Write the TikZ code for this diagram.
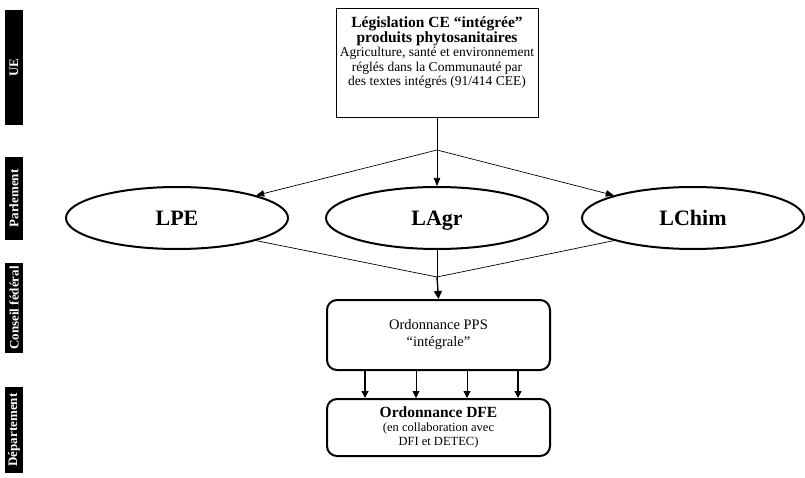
\documentclass[tikz,border=0pt]{standalone}
\usepackage{fontspec}
\setmainfont{Liberation Serif}
\usetikzlibrary{shapes.geometric,arrows.meta}

\tikzset{
  sidebar/.style={fill=black,text=white,font=\bfseries\fontsize{13}{14}\selectfont,rotate=90,minimum height=18pt,inner sep=0pt},
  topbox/.style={draw,line width=0.9pt,minimum width=202pt,minimum height=109pt},
  loi/.style={draw,ellipse,line width=2pt,minimum width=222pt,minimum height=62pt,inner sep=0pt,text height=15pt,text depth=0pt,font=\bfseries\fontsize{22}{24}\selectfont},
  ordbox/.style={draw,rounded corners=10pt,line width=2pt,minimum width=223pt,align=center},
  fleche/.style={-{Triangle[length=8pt,width=6.5pt]},line width=0.7pt},
  gfleche/.style={-{Triangle[length=8pt,width=8pt]},line width=1.4pt}
}

\begin{document}
\begin{tikzpicture}[x=1pt,y=-1pt]
  \useasboundingbox (0,0) rectangle (805,478);
  % niveaux
  \node[sidebar,minimum width=115pt] (ue) at (14,67.5) {UE};
  \node[sidebar,minimum width=83pt] (parl) at (14,198.5) {Parlement};
  \node[sidebar,minimum width=90pt] (cf) at (14,308) {Conseil fédéral};
  \node[sidebar,minimum width=86pt] (dep) at (14,430) {Département};

  \node[topbox] (leg) at (437,62.5) {};
  \node[anchor=north,align=center,inner sep=0pt,font=\fontsize{13.5}{14.5}\selectfont] (legtxt) at ([yshift=-9pt]leg.north)
    {{\bfseries\fontsize{15.5}{14.5}\selectfont Législation CE “intégrée”}\\
     {\bfseries\fontsize{15.5}{14.5}\selectfont produits phytosanitaires}\\
     Agriculture, santé et environnement\\
     réglés dans la Communauté par\\
     des textes intégrés (91/414 CEE)};

  \node[loi] (lpe) at (177,218) {LPE};
  \node[loi] (lagr) at (437,218) {LAgr};
  \node[loi] (lchim) at (693,218) {LChim};

  \coordinate (split) at (437,150);
  \coordinate (merge) at (437,277);

  \node[ordbox,minimum height=70pt,font=\fontsize{14.5}{17}\selectfont] (pps) at (438.5,335) {Ordonnance PPS\\ “intégrale”};
  \node[ordbox,minimum height=57pt,font=\fontsize{12.5}{14}\selectfont] (dfe) at (438.5,427.5)
    {{\bfseries\fontsize{15.5}{14}\selectfont Ordonnance DFE}\\ (en collaboration avec\\ DFI et DETEC)};

  \draw[line width=1pt] (leg.south) -- (split);
  \draw[fleche] (split) -- (lpe.north east);
  \draw[fleche] (split) -- (lagr.north);
  \draw[fleche] (split) -- (lchim.north west);

  \draw[line width=0.7pt] (lpe.south east) -- (merge);
  \draw[line width=0.7pt] (lagr.south) -- (merge);
  \draw[line width=0.7pt] (lchim.south west) -- (merge);
  \draw[gfleche] (merge) -- (pps.north);

  \foreach \dx/\lw in {-73.5/1.4,-22.5/0.9,28.5/0.9,79.5/1.4}
    \draw[-{Triangle[length=7pt,width=7pt]},line width=\lw pt] ([xshift=\dx pt]pps.south) -- ([xshift=\dx pt]dfe.north);
\end{tikzpicture}
\end{document}
